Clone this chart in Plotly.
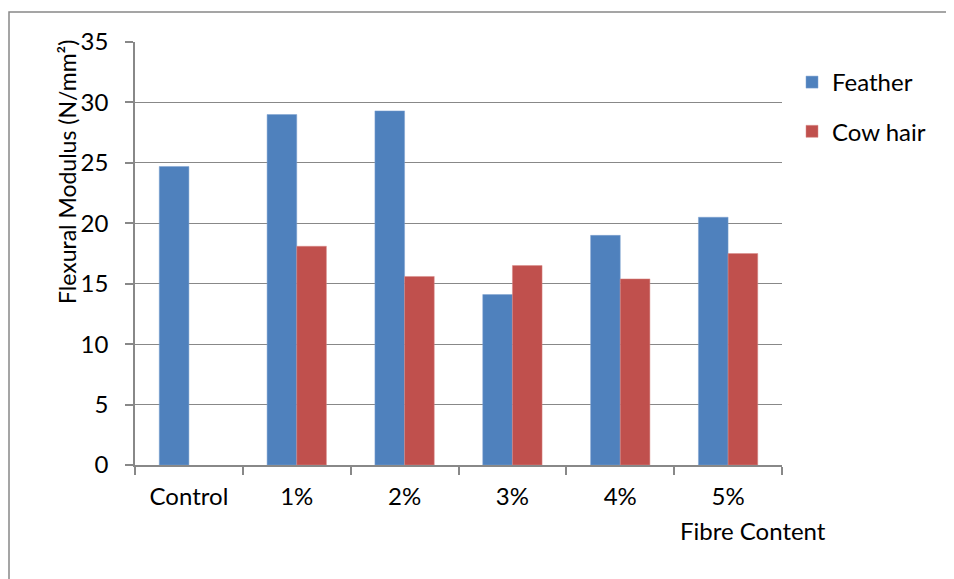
import plotly.graph_objects as go

categories = ["Control", "1%", "2%", "3%", "4%", "5%"]
feather = [24.7, 29.0, 29.3, 14.1, 19.0, 20.5]
cow_hair = [None, 18.1, 15.6, 16.5, 15.4, 17.5]
y_ticks = [0, 5, 10, 15, 20, 25, 30, 35]

FONT = "Lato"
FS = 24

fig = go.Figure()
fig.add_trace(go.Bar(x=categories, y=feather, name="Feather", legendgroup="a",
                     marker=dict(color="#4F81BD", line=dict(color="#7FA3D0", width=0.5))))
fig.add_trace(go.Bar(x=categories, y=cow_hair, name="Cow hair", legendgroup="b",
                     marker=dict(color="#C0504D", line=dict(color="#D88A88", width=0.5))))

OFF = 8  # page body offset
W, H = 954 - OFF, 579 - OFF
L, R, T, B = 135 - OFF, 782 - OFF, 42 - OFF, 465 - OFF
pw, ph = R - L, B - T


def px(x):
    return (x - OFF - L) / pw


def py(y):
    return (B - (y - OFF)) / ph


fig.update_layout(
    width=W, height=H,
    margin=dict(l=L, r=W - R, t=T, b=H - B),
    paper_bgcolor="white", plot_bgcolor="white",
    barmode="group", bargap=0.45, bargroupgap=0,
    font=dict(family=FONT, size=FS, color="black"),
    showlegend=True,
    legend=dict(x=px(792), y=py(60), xanchor="left", yanchor="top",
                font=dict(size=FS), itemwidth=30, tracegroupgap=15,
                bgcolor="rgba(0,0,0,0)"),
    xaxis=dict(showline=True, linecolor="#888888", linewidth=1.5,
               ticks="outside", ticklen=8, tickcolor="#888888", tickwidth=1.5,
               tickson="boundaries", showgrid=False,
               tickfont=dict(size=FS), ticklabelstandoff=9),
    yaxis=dict(range=[0, 35], tickvals=y_ticks, showline=True, linecolor="#888888",
               linewidth=1.5, ticks="outside", ticklen=8, tickcolor="#888888",
               tickwidth=1.5, showgrid=True, gridcolor="#888888", gridwidth=1.2,
               zeroline=False, tickfont=dict(size=FS), ticklabelstandoff=12),
    shapes=[dict(type="rect", xref="paper", yref="paper",
                 x0=px(9), x1=px(953), y0=py(600), y1=py(12),
                 line=dict(color="#888888", width=1.5), layer="below")],
    annotations=[
        dict(text="Fibre Content", xref="paper", yref="paper",
             x=px(753), y=py(530), showarrow=False,
             xanchor="center", yanchor="middle", font=dict(size=FS)),
        dict(text="Flexural Modulus (N/mm²)", xref="paper", yref="paper",
             x=px(67), y=py(172), showarrow=False, textangle=-90,
             xanchor="center", yanchor="middle", font=dict(size=23)),
    ],
)

fig.write_html("out.html")
